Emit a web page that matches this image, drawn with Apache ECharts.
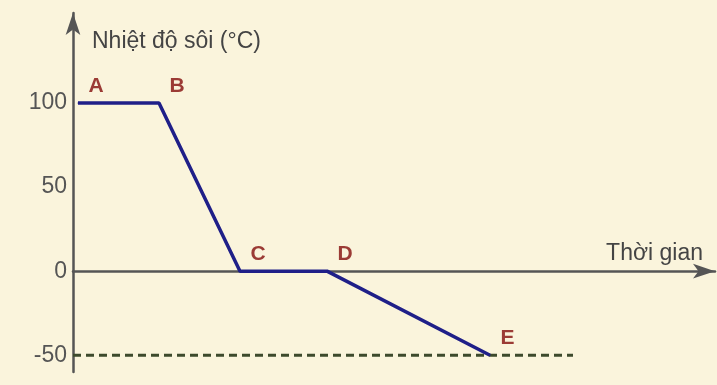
<!DOCTYPE html>
<html>
<head>
<meta charset="utf-8">
<script src="https://cdn.jsdelivr.net/npm/echarts@6/dist/echarts.min.js"></script>
<style>
  html, body { margin: 0; padding: 0; background: #faf4dc; }
  #chart { width: 717px; height: 385px; }
</style>
</head>
<body>
<div id="chart"></div>
<script>
    // du lieu doc tu hinh
    var pointNames = ['A', 'B', 'C', 'D', 'E'];
    var timePoints = [0.5, 8.6, 16.7, 25.4, 41.7];
    var tempValues = [100, 100, 0, 0, -50];
    var dashTime = [0, 50];
    var dashTemp = [-50, -50];
    var yTicks = [100, 50, 0, -50];

    var font = 'Liberation Sans, Arial, sans-serif';

    var lineData = pointNames.map(function (n, i) {
        return { value: [timePoints[i], tempValues[i]], name: n };
    });
    var dashData = dashTime.map(function (t, i) { return [t, dashTemp[i]]; });

    var myChart = echarts.init(document.getElementById('chart'));
    var option = {
        backgroundColor: '#faf4dc',
        animation: false,
        grid: { left: 73, right: 2, top: 13, bottom: 13 },
        xAxis: {
            type: 'value',
            min: 0,
            max: 64.2,
            name: 'Thời gian',
            nameLocation: 'end',
            nameGap: -12,
            nameTextStyle: {
                color: '#444', fontSize: 23, fontFamily: font,
                align: 'right', verticalAlign: 'bottom', padding: [0, 0, 6, 0]
            },
            axisLine: {
                onZero: true,
                symbol: ['none', 'arrow'],
                symbolSize: [11, 22],
                lineStyle: { color: '#555', width: 2.5 }
            },
            axisTick: { show: false },
            axisLabel: { show: false },
            splitLine: { show: false }
        },
        yAxis: {
            type: 'value',
            min: -60,
            max: 153.6,
            name: 'Nhiệt độ sôi (°C)',
            nameLocation: 'end',
            nameGap: -29,
            nameTextStyle: {
                color: '#444', fontSize: 23, fontFamily: font,
                align: 'left', verticalAlign: 'middle', padding: [0, 0, 0, 19]
            },
            axisLine: {
                symbol: ['none', 'arrow'],
                symbolSize: [11, 22],
                lineStyle: { color: '#555', width: 2.5 }
            },
            axisTick: { show: false },
            axisLabel: {
                customValues: yTicks,
                color: '#555', fontSize: 23, fontFamily: font, margin: 6
            },
            splitLine: { show: false }
        },
        series: [
            {
                type: 'line',
                data: dashData,
                symbol: 'none',
                lineStyle: { color: '#3d4a2c', width: 3, type: [8, 5] },
                z: 2
            },
            {
                type: 'line',
                data: lineData,
                symbol: 'circle',
                symbolSize: 1,
                showSymbol: true,
                itemStyle: { color: '#1f1f88' },
                lineStyle: { color: '#1f1f88', width: 3.5 },
                label: {
                    show: true,
                    formatter: '{b}',
                    position: [11, -27],
                    color: '#9b3b35',
                    fontSize: 21,
                    fontWeight: 'bold',
                    fontFamily: font
                },
                z: 3
            }
        ]
    };
    myChart.setOption(option);
</script>
</body>
</html>
